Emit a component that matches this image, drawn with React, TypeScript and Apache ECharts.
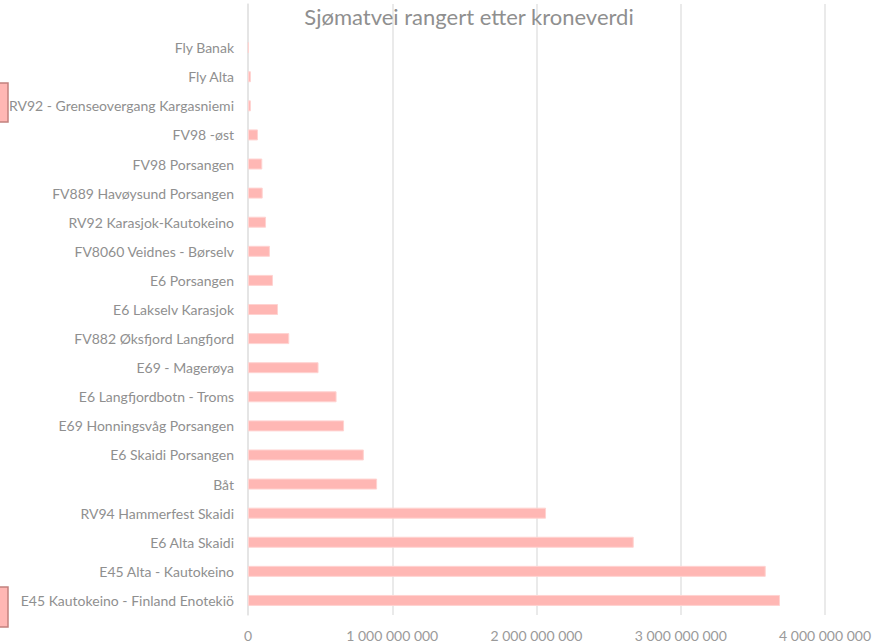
import React, { useEffect, useRef } from "react";
import * as echarts from "echarts";

const categories = [
  "E45 Kautokeino - Finland Enotekiö",
  "E45 Alta - Kautokeino",
  "E6 Alta Skaidi",
  "RV94 Hammerfest Skaidi",
  "Båt",
  "E6 Skaidi Porsangen",
  "E69 Honningsvåg Porsangen",
  "E6 Langfjordbotn - Troms",
  "E69 - Magerøya",
  "FV882 Øksfjord Langfjord",
  "E6 Lakselv Karasjok",
  "E6 Porsangen",
  "FV8060 Veidnes - Børselv",
  "RV92 Karasjok-Kautokeino",
  "FV889 Havøysund Porsangen",
  "FV98 Porsangen",
  "FV98 -øst",
  "RV92 - Grenseovergang Kargasniemi",
  "Fly Alta",
  "Fly Banak",
  "",
];

const values = [
  3688000000, 3589000000, 2674000000, 2066000000, 895000000, 803000000,
  666000000, 614000000, 489000000, 286000000, 208000000, 173000000,
  152000000, 125000000, 102000000, 99000000, 69000000, 20000000, 20000000,
  5000000, null,
];

const titleText = "Sjømatvei rangert etter kroneverdi";
const xTicks = [0, 1000000000, 2000000000, 3000000000, 4000000000];

const fmt = (v: number) =>
  String(Math.round(v)).replace(/\B(?=(\d{3})+(?!\d))/g, " ");

export default function App() {
  const ref = useRef<HTMLDivElement>(null);
  useEffect(() => {
    const chart = echarts.init(ref.current!, null, { renderer: "svg" });
    const font = "Lato, 'Open Sans', sans-serif";
    chart.setOption({
      animation: false,
      backgroundColor: "#ffffff",
      title: {
        text: titleText,
        left: 464,
        top: 0,
        textAlign: "center",
        textStyle: {
          fontFamily: font,
          fontSize: 22,
          fontWeight: "normal",
          color: "#8f8f8f",
        },
      },
      grid: { left: 248, right: 48, top: 4, bottom: 29, containLabel: false },
      xAxis: {
        type: "value",
        min: xTicks[0],
        max: xTicks[xTicks.length - 1],
        interval: 1000000000,
        axisLine: { show: false },
        axisTick: { show: false },
        splitLine: { show: true, lineStyle: { color: "#e3e3e3", width: 1.5 } },
        axisLabel: {
          formatter: (v: number) => fmt(v),
          color: "#9a9a9a",
          fontFamily: font,
          fontSize: 14,
          margin: 13,
        },
      },
      yAxis: {
        type: "category",
        data: categories,
        axisLine: { show: true, lineStyle: { color: "#e3e3e3", width: 1.5 } },
        axisTick: { show: false },
        splitLine: { show: false },
        axisLabel: {
          color: "#8f8f8f",
          fontFamily: font,
          fontSize: 14,
          margin: 14,
          interval: 0,
        },
      },
      series: [
        {
          type: "bar",
          data: values,
          barWidth: 11,
          itemStyle: {
            color: "#ffb7b4",
            borderColor: "#ffd3d1",
            borderWidth: 1,
          },
        },
      ],
      graphic: [
        {
          type: "rect",
          shape: { x: -1, y: 83, width: 9, height: 39 },
          style: { fill: "#ffb7b4", stroke: "#c2817e", lineWidth: 1.5 },
        },
        {
          type: "rect",
          shape: { x: -1, y: 587, width: 9, height: 40 },
          style: { fill: "#ffb7b4", stroke: "#c2817e", lineWidth: 1.5 },
        },
      ],
    });
    return () => chart.dispose();
  }, []);
  return (
    <div
      ref={ref}
      style={{ position: "fixed", left: 0, top: 0, width: 874, height: 644 }}
    />
  );
}
